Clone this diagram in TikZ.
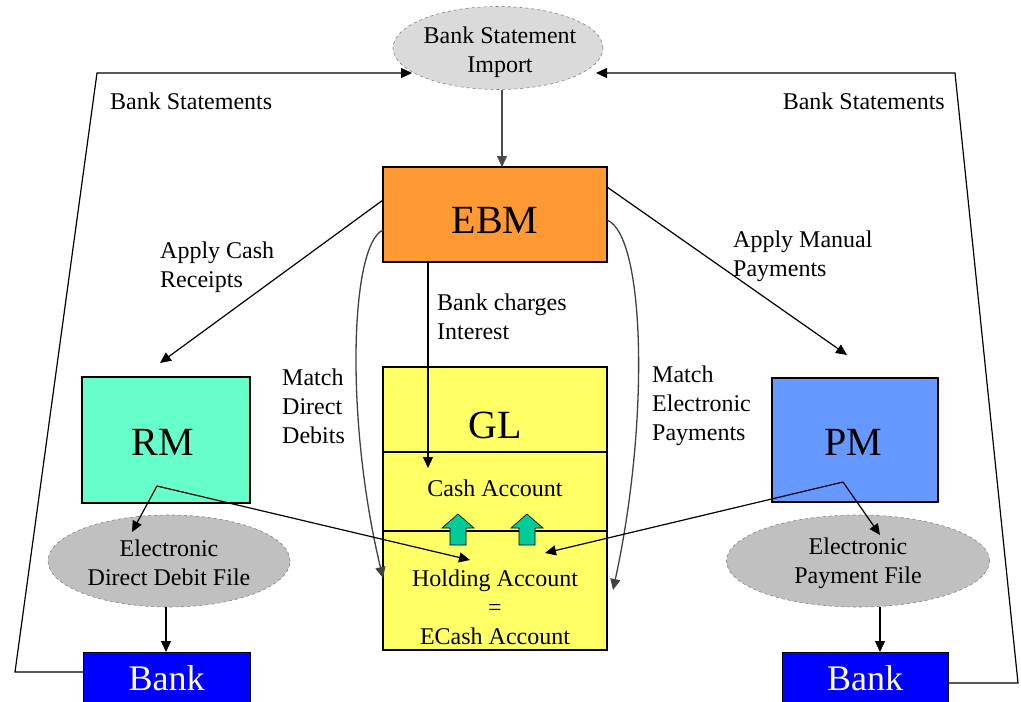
\documentclass[tikz,border=0pt]{standalone}
\usepackage{fontspec}
\setmainfont{Liberation Serif}
\usetikzlibrary{arrows.meta,shapes.geometric}
\definecolor{ebmor}{HTML}{FF9933}
\definecolor{rmaq}{HTML}{66FFCC}
\definecolor{pmblue}{HTML}{6699FF}
\definecolor{glyel}{HTML}{FFFF66}
\definecolor{bankblue}{HTML}{0000FF}
\definecolor{bsigray}{HTML}{DADADA}
\definecolor{filegray}{HTML}{C0C0C0}
\definecolor{upgreen}{HTML}{00CC99}
\begin{document}
\begin{tikzpicture}[x={(1pt,0pt)},y={(0pt,-1pt)},
  box/.style={draw=black, line width=1.6pt, rectangle, inner sep=0pt, outer sep=0pt},
  big/.style={font=\fontsize{40}{44}\selectfont},
  bankfont/.style={font=\fontsize{36}{40}\selectfont, text=white},
  lbl/.style={font=\fontsize{24}{29}\selectfont, align=left, inner sep=0pt},
  ctr/.style={font=\fontsize{24}{29}\selectfont, align=center, inner sep=0pt},
  ell/.style={ellipse, draw=gray, dashed, line width=0.6pt, inner sep=0pt, outer sep=0pt},
  conn/.style={line width=1.2pt, -{Triangle[length=11pt,width=10pt]}},
  curve/.style={draw=gray!50!black, line width=1.3pt, -{Triangle[length=11pt,width=10pt]}},
  uparrow/.style={fill=upgreen, draw=black, line width=0.6pt}
]
\useasboundingbox (0,0) rectangle (1021,702);

% ---- nodes ----
\node[ell, fill=bsigray, minimum width=210pt, minimum height=83pt] (bsi) at (498,48) {};
\node[ctr] (bsit) at (500,52) {Bank Statement\\Import};

\node[box, fill=ebmor, minimum width=224pt, minimum height=95pt] (ebm) at (495,214.5) {};
\node[big] (ebmt) at (495,220) {EBM};

\node[box, fill=rmaq, minimum width=168pt, minimum height=126pt] (rm) at (166,440) {};
\node[big] (rmt) at (163,442) {RM};

\node[box, fill=pmblue, minimum width=166pt, minimum height=124pt] (pm) at (855,440) {};
\node[big] (pmt) at (853,442) {PM};

\node[box, fill=glyel, minimum width=224pt, minimum height=283pt] (gl) at (495,508.5) {};
\node[big] (glt) at (495,425) {GL};
\node[box, fill=glyel, line width=2pt, minimum width=224pt, minimum height=79pt] (cash) at (495,491.5) {};
\node[ctr] (casht) at (495,488) {Cash Account};
\node[ctr] (hold) at (495,607) {Holding Account\\=\\ECash Account};

\node[ell, fill=filegray, minimum width=242pt, minimum height=92pt] (ddf) at (169,561) {};
\node[ctr] (ddft) at (169,563) {Electronic\\Direct Debit File};

\node[ell, fill=filegray, minimum width=263pt, minimum height=92pt] (epf) at (858,561) {};
\node[ctr] (epft) at (858,563) {Electronic\\Payment File};

\node[box, fill=bankblue, line width=1pt, minimum width=167pt, minimum height=56pt] (bankl) at (166.5,680) {};
\node[bankfont] (banklt) at (166.5,678) {Bank};
\node[box, fill=bankblue, line width=1pt, minimum width=166pt, minimum height=56pt] (bankr) at (865,680) {};
\node[bankfont] (bankrt) at (865,678) {Bank};

% ---- labels ----
\node[lbl, anchor=west] (bsl) at (110,101) {Bank Statements};
\node[lbl, anchor=east] (bsr) at (945,101) {Bank Statements};
\node[lbl, anchor=west] (acr) at (160,267) {Apply Cash\\Receipts};
\node[lbl, anchor=west] (amp) at (733,256) {Apply Manual\\Payments};
\node[lbl, anchor=west] (bci) at (437,317) {Bank charges\\Interest};
\node[lbl, anchor=west] (mdd) at (282,406) {Match\\Direct\\Debits};
\node[lbl, anchor=west] (mep) at (652,406) {Match\\Electronic\\Payments};

% ---- coordinates ----
\coordinate (l1) at (15,672);
\coordinate (l2) at (97,73);
\coordinate (l3) at (412,73);
\coordinate (r1) at (1018,683);
\coordinate (r2) at (955,73);
\coordinate (r3) at (596,73);
\coordinate (acs) at (383,200);
\coordinate (ace) at (160,363);
\coordinate (ams) at (607,187);
\coordinate (ame) at (847,355);
\coordinate (mds) at (383,230);
\coordinate (mde) at (383,578);
\coordinate (mes) at (607,220);
\coordinate (mee) at (613,590);
\coordinate (bcs) at (428,262);
\coordinate (bce) at (428,468);
\coordinate (rs) at (157,486);
\coordinate (rse) at (132,532);
\coordinate (rhe) at (470,560);
\coordinate (ps) at (843,482);
\coordinate (pse) at (880,535);
\coordinate (phe) at (545,553);
\coordinate (bsiS) at (502,90);
\coordinate (ebmN) at (502,167);
\coordinate (ddfS) at (166,607);
\coordinate (blN) at (166,652);
\coordinate (epfS) at (880,607);
\coordinate (brN) at (880,652);

% ---- connectors ----
\draw[conn, draw=gray!60!black] (bsiS) -- (ebmN);
\draw[conn] (l1 -| bankl.west) -- (l1) -- (l2) -- (l3);
\draw[conn] (r1 -| bankr.east) -- (r1) -- (r2) -- (r3);
\draw[conn] (acs) -- (ace);
\draw[conn] (ams) -- (ame);
\draw[curve] (mds) .. controls (350,245) and (345,420) .. (mde);
\draw[curve] (mes) .. controls (645,235) and (650,420) .. (mee);
\draw[conn] (bcs) -- (bce);
\draw[conn] (rs) -- (rse);
\draw[conn] (rs) -- (rhe);
\draw[conn] (ps) -- (pse);
\draw[conn] (ps) -- (phe);
\draw[conn] (ddfS) -- (blN);
\draw[conn] (epfS) -- (brN);

% ---- green up arrows ----
\foreach \cx in {458,527}{
  \draw[uparrow] (\cx-8,545) -- (\cx-8,528) -- (\cx-16,528) -- (\cx,514) -- (\cx+16,528) -- (\cx+8,528) -- (\cx+8,545) -- cycle;
}
\end{tikzpicture}
\end{document}
